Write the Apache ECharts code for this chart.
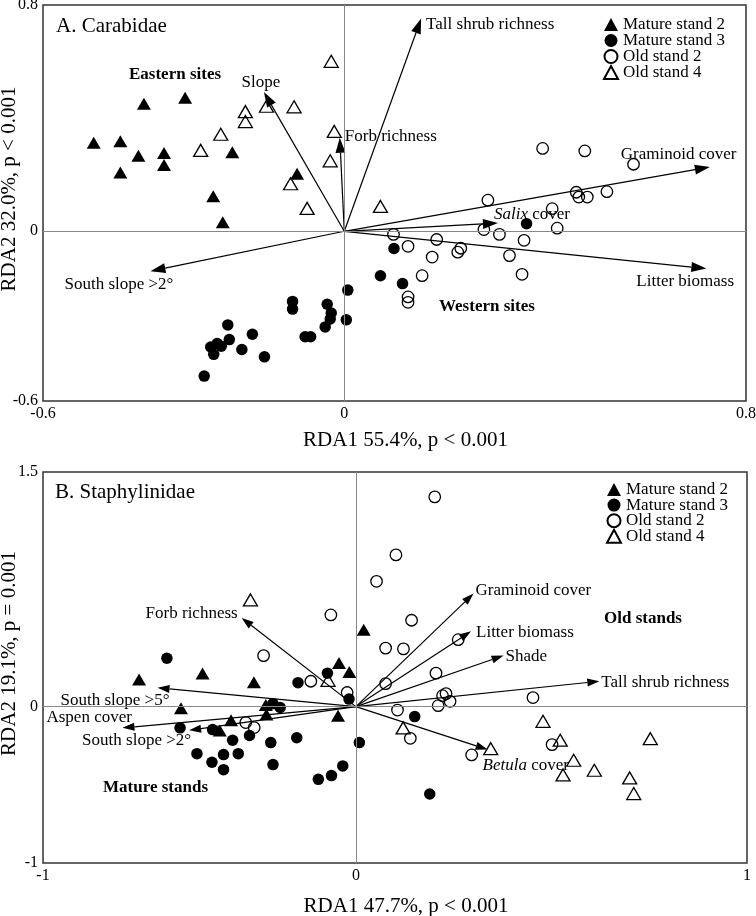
<!DOCTYPE html>
<html>
<head>
<meta charset="utf-8">
<script src="https://cdn.jsdelivr.net/npm/echarts@6/dist/echarts.min.js"></script>
<style>
html,body{margin:0;padding:0;background:#fff;}
#chart{width:756px;height:916px;}
</style>
</head>
<body>
<div id="chart"></div>
<script>
// ---------- DATA ----------
const groups = ['Mature stand 2', 'Mature stand 3', 'Old stand 2', 'Old stand 4'];

// Panel A: Carabidae site scores [RDA1, RDA2]
const carabMS2 = [[-0.499,0.313],[-0.446,0.318],[-0.399,0.451],[-0.317,0.472],[-0.410,0.267],[-0.359,0.277],[-0.359,0.234],[-0.446,0.208],[-0.223,0.279],[-0.261,0.124],[-0.242,0.032],[-0.094,0.203]];
const carabMS3 = [[0.363,0.027],[0.099,-0.061],[0.072,-0.157],[0.116,-0.185],[0.007,-0.208],[0.004,-0.313],[-0.103,-0.248],[-0.103,-0.275],[-0.034,-0.258],[-0.026,-0.289],[-0.028,-0.310],[-0.038,-0.338],[-0.078,-0.373],[-0.067,-0.373],[-0.232,-0.331],[-0.229,-0.383],[-0.183,-0.364],[-0.266,-0.409],[-0.253,-0.397],[-0.245,-0.406],[-0.260,-0.435],[-0.204,-0.418],[-0.159,-0.444],[-0.279,-0.512]];
const carabOS2 = [[0.395,0.293],[0.479,0.284],[0.576,0.237],[0.523,0.140],[0.462,0.138],[0.467,0.121],[0.484,0.121],[0.286,0.110],[0.414,0.080],[0.424,0.011],[0.278,0.006],[0.309,-0.011],[0.358,-0.032],[0.098,-0.011],[0.127,-0.053],[0.184,-0.029],[0.175,-0.091],[0.226,-0.074],[0.232,-0.060],[0.329,-0.086],[0.155,-0.157],[0.354,-0.152],[0.127,-0.232],[0.127,-0.251]];
const carabOS4 = [[-0.026,0.601],[-0.197,0.423],[-0.197,0.388],[-0.155,0.442],[-0.100,0.440],[-0.246,0.343],[-0.286,0.286],[-0.020,0.353],[-0.028,0.249],[-0.107,0.168],[-0.074,0.081],[0.072,0.088]];

// Panel A: environmental vectors
const carabVarNames = ['Tall shrub richness','Slope','Forb richness','Graminoid cover','{i|Salix} cover','Litter biomass','South slope >2°'];
const carabVarX = [0.153,-0.160,-0.009,0.728,0.306,0.721,-0.386];
const carabVarY = [0.752,0.492,0.331,0.227,0.029,-0.132,-0.141];

// Panel B: Staphylinidae site scores
const staphMS2 = [[-0.693,0.173],[-0.490,0.211],[-0.326,0.155],[-0.054,0.279],[-0.021,0.221],[0.025,0.492],[-0.559,-0.011],[-0.288,0.011],[-0.057,-0.058],[-0.399,-0.088],[-0.286,-0.051],[-0.435,-0.153]];
const staphMS3 = [[-0.604,0.309],[-0.091,0.214],[-0.185,0.153],[-0.022,0.048],[-0.265,0.019],[-0.242,-0.006],[0.188,-0.064],[-0.562,-0.136],[-0.458,-0.147],[-0.340,-0.185],[-0.394,-0.215],[-0.272,-0.230],[-0.189,-0.199],[0.011,-0.230],[-0.508,-0.301],[-0.423,-0.307],[-0.376,-0.301],[-0.460,-0.356],[-0.423,-0.403],[-0.265,-0.371],[-0.120,-0.465],[-0.078,-0.441],[-0.042,-0.379],[0.236,-0.559]];
const staphOS2 = [[0.252,1.341],[0.128,0.970],[0.066,0.801],[-0.080,0.586],[0.178,0.552],[-0.295,0.326],[0.095,0.374],[0.152,0.369],[0.327,0.428],[-0.144,0.162],[-0.028,0.090],[0.095,0.147],[0.256,0.214],[0.277,0.070],[0.288,0.083],[0.301,0.034],[0.263,0.006],[0.566,0.058],[0.133,-0.022],[0.174,-0.203],[-0.352,-0.102],[-0.325,-0.134],[0.370,-0.309],[0.627,-0.243]];
const staphOS4 = [[-0.337,0.682],[-0.089,0.168],[0.151,-0.136],[0.431,-0.269],[0.598,-0.094],[0.653,-0.215],[0.696,-0.343],[0.662,-0.437],[0.762,-0.407],[0.941,-0.205],[0.875,-0.456],[0.888,-0.556]];

const staphVarNames = ['Forb richness','Graminoid cover','Litter biomass','Shade','Tall shrub richness','{i|Betula} cover','South slope >5°','Aspen cover','South slope >2°'];
const staphVarX = [-0.365,0.376,0.368,0.472,0.778,0.421,-0.634,-0.746,-0.533];
const staphVarY = [0.567,0.723,0.481,0.326,0.162,-0.275,0.120,-0.136,-0.152];

// Axis ticks
const carabXTicks = [-0.6, 0, 0.8], carabXTickLabels = ['-0.6','0','0.8'];
const carabYTicks = [-0.6, 0, 0.8], carabYTickLabels = ['-0.6','0','0.8'];
const staphXTicks = [-1, 0, 1.25], staphXTickLabels = ['-1','0','1'];
const staphYTicks = [-1, 0, 1.5], staphYTickLabels = ['-1','0','1.5'];

// ---------- STYLE ----------
const FONT = "'Liberation Serif','Times New Roman',serif";
const LBL = 17;
// label offsets (px) relative to vector tip: [dx, dy, align]
const carabLabelPos = [[5,6,'left'],[-3,-10,'center'],[5,-1,'left'],[-89,-13,'left'],[-4,-9,'left'],[-70,13,'left'],[-86,13,'left']];
const staphLabelPos = [[-4,-4,'right'],[2,-3,'left'],[5,1,'left'],[2,1,'left'],[2,1,'left'],[-5,16,'left'],[-97,13,'left'],[-76,-10,'left'],[-107,10,'left']];

const symbols = ['triangle','circle','circle','triangle'];
const filled = [true,true,false,false];

function tickAxis(ticks, labels, extra) {
  return Object.assign({
    type: 'value',
    min: ticks[0], max: ticks[ticks.length-1],
    axisLine: {show:false}, axisTick: {show:false}, splitLine: {show:false},
    axisLabel: {
      customValues: ticks,
      formatter: function (v) {
        for (let i = 0; i < ticks.length; i++) if (Math.abs(v - ticks[i]) < 1e-6) return labels[i];
        return '';
      },
      color: '#000', fontFamily: FONT, fontSize: 16, margin: 5
    },
    nameMoveOverlap: false
  }, extra);
}

function pointSeries(name, idx, data, gi) {
  const isTri = symbols[idx] === 'triangle';
  return {
    type: 'scatter', name: name, xAxisIndex: gi, yAxisIndex: gi,
    data: data, symbol: symbols[idx], symbolSize: isTri ? [14, 12] : 11.5,
    itemStyle: filled[idx] ? {color:'#000', opacity:1} : {color:'rgba(255,255,255,0)', borderColor:'#000', borderWidth:1.3, opacity:1},
    z: 3
  };
}

function arrowSeries(names, xs, ys, pos, gi, headL, headW) {
  const data = names.map((n, i) => [xs[i], ys[i], i]);
  return {
    type: 'custom', xAxisIndex: gi, yAxisIndex: gi, silent: true, z: 4,
    data: data,
    renderItem: function (params, api) {
      const i = api.value(2);
      const o = api.coord([0, 0]);
      const t = api.coord([api.value(0), api.value(1)]);
      const dx = t[0]-o[0], dy = t[1]-o[1];
      const len = Math.sqrt(dx*dx+dy*dy);
      const ux = dx/len, uy = dy/len, nx = -uy, ny = ux;
      const bx = t[0]-ux*headL, by = t[1]-uy*headL;
      const p = pos[i];
      return {
        type: 'group',
        children: [
          {type:'line', shape:{x1:o[0], y1:o[1], x2:bx, y2:by}, style:{stroke:'#000', lineWidth:1.2}},
          {type:'polygon', shape:{points:[[t[0],t[1]],[bx+nx*headW,by+ny*headW],[bx-nx*headW,by-ny*headW]]}, style:{fill:'#000'}},
          {type:'text', x: t[0]+p[0], y: t[1]+p[1],
           style:{text: names[i], fill:'#000', font: LBL + 'px ' + FONT, fontSize: LBL, fontFamily: FONT,
                  align: p[2], verticalAlign: 'middle',
                  rich: {i: {fontStyle:'italic', fontSize: LBL, fontFamily: FONT, fill:'#000'}}}}
        ]
      };
    }
  };
}

function zeroLines(gi) {
  return {
    type: 'scatter', xAxisIndex: gi, yAxisIndex: gi, data: [], silent: true, z: 1,
    markLine: {silent:true, symbol:['none','none'], label:{show:false},
      lineStyle:{color:'#888', width:1, type:'solid'}, animation:false,
      data: [{xAxis:0}, {yAxis:0}]}
  };
}

const legendData = groups.map((g, i) => ({name: g, icon: symbols[i]}));
const nameStyleX = {color:'#000', fontFamily: FONT, fontSize: 21, padding:[0,0,0,22]};
const nameStyleY = {color:'#000', fontFamily: FONT, fontSize: 21, padding:[0,0,0,28]};

const option = {
  animation: false,
  backgroundColor: '#fff',
  grid: [
    {left: 43, top: 5, width: 703, height: 396, show: true, borderColor: '#333', borderWidth: 1.5, backgroundColor:'transparent', containLabel:false, outerBoundsMode:'none'},
    {left: 43, top: 472, width: 704, height: 391, show: true, borderColor: '#333', borderWidth: 1.5, backgroundColor:'transparent', containLabel:false, outerBoundsMode:'none'}
  ],
  xAxis: [
    tickAxis(carabXTicks, carabXTickLabels, {gridIndex:0, name:'RDA1 55.4%, p < 0.001', nameLocation:'middle', nameGap:29, nameTextStyle:nameStyleX}),
    tickAxis(staphXTicks, staphXTickLabels, {gridIndex:1, name:'RDA1 47.7%, p < 0.001', nameLocation:'middle', nameGap:33, nameTextStyle:nameStyleX})
  ],
  yAxis: [
    tickAxis(carabYTicks, carabYTickLabels, {gridIndex:0, name:'RDA2 32.0%, p < 0.001', nameLocation:'middle', nameGap:23, nameTextStyle:nameStyleY}),
    tickAxis(staphYTicks, staphYTickLabels, {gridIndex:1, name:'RDA2 19.1%, p = 0.001', nameLocation:'middle', nameGap:23, nameTextStyle:nameStyleY})
  ],
  title: [
    {text:'A. Carabidae', left:56, top:16, padding:0, textStyle:{fontFamily:FONT, fontSize:21, fontWeight:'normal', color:'#000'}},
    {text:'B. Staphylinidae', left:55, top:482, padding:0, textStyle:{fontFamily:FONT, fontSize:21, fontWeight:'normal', color:'#000'}}
  ],
  legend: [
    {data: legendData, orient:'vertical', left:603, top:16, itemWidth:14, itemHeight:13, itemGap:-1, padding:0,
     textStyle:{fontFamily:FONT, fontSize:17, lineHeight:16, color:'#000'}, selectedMode:false},
    {data: legendData, orient:'vertical', left:606, top:481, itemWidth:14, itemHeight:13, itemGap:-1.4, padding:0,
     textStyle:{fontFamily:FONT, fontSize:17, lineHeight:16, color:'#000'}, selectedMode:false}
  ],
  graphic: [
    {type:'text', left:129, top:66, style:{text:'Eastern sites', font:'bold 17px ' + FONT, fill:'#000'}},
    {type:'text', left:439, top:298, style:{text:'Western sites', font:'bold 17px ' + FONT, fill:'#000'}},
    {type:'text', left:604, top:610, style:{text:'Old stands', font:'bold 17px ' + FONT, fill:'#000'}},
    {type:'text', left:103, top:779, style:{text:'Mature stands', font:'bold 17px ' + FONT, fill:'#000'}}
  ],
  series: [
    zeroLines(0), zeroLines(1),
    pointSeries(groups[0], 0, carabMS2, 0),
    pointSeries(groups[1], 1, carabMS3, 0),
    pointSeries(groups[2], 2, carabOS2, 0),
    pointSeries(groups[3], 3, carabOS4, 0),
    pointSeries(groups[0], 0, staphMS2, 1),
    pointSeries(groups[1], 1, staphMS3, 1),
    pointSeries(groups[2], 2, staphOS2, 1),
    pointSeries(groups[3], 3, staphOS4, 1),
    arrowSeries(carabVarNames, carabVarX, carabVarY, carabLabelPos, 0, 15, 5),
    arrowSeries(staphVarNames, staphVarX, staphVarY, staphLabelPos, 1, 12, 4)
  ]
};

const chart = echarts.init(document.getElementById('chart'), null, {renderer:'canvas'});
chart.setOption(option);
</script>
</body>
</html>
